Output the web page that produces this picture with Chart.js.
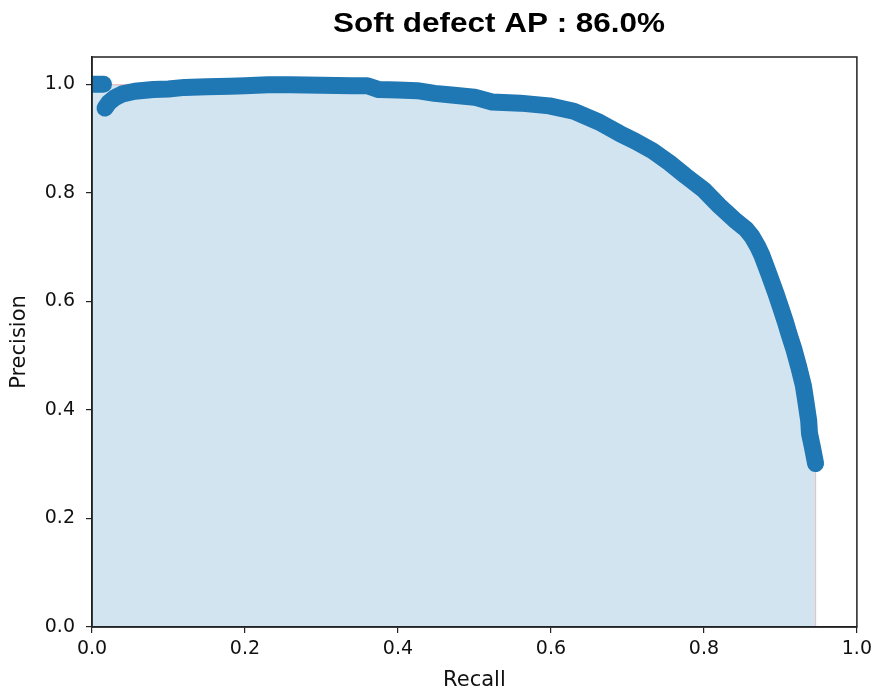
<!DOCTYPE html>
<html>
<head>
<meta charset="utf-8">
<script src="https://cdn.jsdelivr.net/npm/chart.js@4/dist/chart.umd.min.js"></script>
<style>
  html, body { margin: 0; padding: 0; background: #fff; }
  canvas { display: block; }
</style>
</head>
<body>
<canvas id="c" width="877" height="697"></canvas>
<script>
// ---- data ----
const titleText = "Soft defect AP : 86.0%";
const xLabel = "Recall";
const yLabel = "Precision";
const xTicks = [0, 0.2, 0.4, 0.6, 0.8, 1.0];
const yTicks = [0, 0.2, 0.4, 0.6, 0.8, 1.0];

// initial cluster of points at precision 1.0
const headRecall    = [0.000, 0.005, 0.010, 0.015];
const headPrecision = [1.000, 1.000, 1.000, 1.000];

// main precision-recall curve
const recall = [
  0.017, 0.022, 0.030, 0.040, 0.056, 0.080, 0.100, 0.121, 0.150, 0.180,
  0.200, 0.230, 0.260, 0.300, 0.340, 0.360, 0.375, 0.400, 0.425, 0.448,
  0.470, 0.500, 0.523, 0.560, 0.598, 0.630, 0.663, 0.690, 0.710, 0.733,
  0.755, 0.776, 0.800, 0.820, 0.840, 0.855, 0.863, 0.870, 0.876, 0.885, 0.894,
  0.900, 0.907, 0.911, 0.918, 0.924, 0.930, 0.933, 0.937, 0.938, 0.942,
  0.946
];
const precision = [
  0.956, 0.966, 0.975, 0.982, 0.987, 0.990, 0.991, 0.994, 0.995, 0.996,
  0.997, 0.999, 0.999, 0.998, 0.997, 0.997, 0.990, 0.989, 0.988, 0.983,
  0.980, 0.976, 0.967, 0.965, 0.960, 0.950, 0.930, 0.909, 0.895, 0.877,
  0.855, 0.831, 0.805, 0.776, 0.750, 0.733, 0.719, 0.702, 0.684, 0.650, 0.615,
  0.590, 0.560, 0.541, 0.510, 0.479, 0.445, 0.418, 0.380, 0.357, 0.330,
  0.301
];

// interpolated (envelope) precision used for the shaded area
const envRecall    = [0.000, 0.230, 0.260, 0.300, 0.340, 0.360, 0.375, 0.400, 0.425, 0.448,
  0.470, 0.500, 0.523, 0.560, 0.598, 0.630, 0.663, 0.690, 0.710, 0.733,
  0.755, 0.776, 0.800, 0.820, 0.840, 0.855, 0.863, 0.870, 0.876, 0.885, 0.894,
  0.900, 0.907, 0.911, 0.918, 0.924, 0.930, 0.933, 0.937, 0.938, 0.942,
  0.946, 0.946];
const envPrecision = [0.999, 0.999, 0.999, 0.998, 0.997, 0.997, 0.990, 0.989, 0.988, 0.983,
  0.980, 0.976, 0.967, 0.965, 0.960, 0.950, 0.930, 0.909, 0.895, 0.877,
  0.855, 0.831, 0.805, 0.776, 0.750, 0.733, 0.719, 0.702, 0.684, 0.650, 0.615,
  0.590, 0.560, 0.541, 0.510, 0.479, 0.445, 0.418, 0.380, 0.357, 0.330,
  0.301, 0.000];

// ---- chart ----
const toPts = (xs, ys) => xs.map((x, i) => ({ x: x, y: ys[i] }));
const BLUE = '#1f77b4';
const TXT = '#111';
const tickFont  = { family: "'DejaVu Sans', sans-serif", size: 19 };
const labelFont = { family: "'DejaVu Sans', sans-serif", size: 21 };

const framePlugin = {
  id: 'frame',
  afterDatasetsDraw(chart) {
    const { ctx, chartArea: a } = chart;
    ctx.save();
    ctx.strokeStyle = '#222';
    ctx.lineWidth = 1.5;
    ctx.strokeRect(a.left, a.top, a.right - a.left, a.bottom - a.top);
    ctx.restore();
  }
};
const titlePlugin = {
  id: 'topTitle',
  afterDraw(chart) {
    const ctx = chart.ctx;
    ctx.save();
    ctx.fillStyle = '#000';
    ctx.font = "bold 27px 'Liberation Sans', Arial, sans-serif";
    ctx.textAlign = 'center';
    ctx.textBaseline = 'alphabetic';
    const w = ctx.measureText(titleText).width;
    const sx = 332 / w;
    ctx.translate(499, 32);
    ctx.scale(sx, 1);
    ctx.fillText(titleText, 0, 0);
    ctx.restore();
  }
};

new Chart(document.getElementById('c'), {
  type: 'line',
  data: {
    datasets: [
      {
        data: toPts(recall, precision),
        borderColor: BLUE,
        borderWidth: 17,
        borderCapStyle: 'round',
        borderJoinStyle: 'round',
        pointRadius: 0,
        fill: false,
        tension: 0,
        clip: 0,
        order: 0
      },
      {
        data: toPts(headRecall, headPrecision),
        borderColor: BLUE,
        borderWidth: 17,
        borderCapStyle: 'round',
        borderJoinStyle: 'round',
        pointRadius: 0,
        fill: false,
        clip: 0,
        order: 1
      },
      {
        data: toPts(envRecall, envPrecision),
        borderColor: 'rgba(214,39,40,0.25)',
        borderWidth: 1.2,
        pointRadius: 0,
        fill: 'origin',
        backgroundColor: 'rgba(31,119,180,0.2)',
        tension: 0,
        clip: 0,
        order: 2
      }
    ]
  },
  options: {
    responsive: false,
    devicePixelRatio: 1,
    animation: false,
    layout: { padding: { left: 0, right: 19, top: 57, bottom: 0 } },
    plugins: { legend: { display: false }, tooltip: { enabled: false }, title: { display: false } },
    scales: {
      x: {
        type: 'linear',
        min: 0, max: 1,
        afterBuildTicks: s => { s.ticks = xTicks.map(v => ({ value: v })); },
        afterFit: s => { s.height = 70; },
        ticks: { font: tickFont, color: TXT, padding: 5, maxRotation: 0,
                 callback: v => Number(v).toFixed(1) },
        grid: { display: true, drawOnChartArea: false, drawTicks: true, tickLength: 6, color: '#222', lineWidth: 1.2 },
        border: { display: true, color: '#222', width: 1.5 },
        title: { display: true, text: xLabel, font: labelFont, color: TXT, padding: { top: 0, bottom: 4 } }
      },
      y: {
        type: 'linear',
        min: 0, max: 1.05,
        afterBuildTicks: s => { s.ticks = yTicks.map(v => ({ value: v })); },
        afterFit: s => { s.width = 92; },
        ticks: { font: tickFont, color: TXT, padding: 11,
                 callback: v => Number(v).toFixed(1) },
        grid: { display: true, drawOnChartArea: false, drawTicks: true, tickLength: 6, color: '#222', lineWidth: 1.2 },
        border: { display: true, color: '#222', width: 1.5 },
        title: { display: true, text: yLabel, font: labelFont, color: TXT, padding: { top: 7, bottom: 0 } }
      }
    }
  },
  plugins: [framePlugin, titlePlugin]
});
</script>
</body>
</html>
